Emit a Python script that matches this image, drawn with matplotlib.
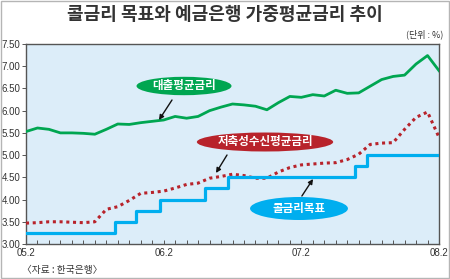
import matplotlib
matplotlib.use("Agg")
import matplotlib.pyplot as plt
from matplotlib.patches import Ellipse, Rectangle

plt.rcParams['font.family'] = ['Noto Sans CJK KR', 'DejaVu Sans']

# months since 2005.02 (0 = 05.2 ... 36 = 08.2)
months = list(range(37))
loan_rate = [5.53, 5.61, 5.58, 5.50, 5.50, 5.49, 5.47, 5.58, 5.70, 5.69, 5.73, 5.76,
             5.79, 5.87, 5.83, 5.87, 6.00, 6.08, 6.15, 6.13, 6.10, 6.02, 6.18, 6.32,
             6.30, 6.36, 6.33, 6.46, 6.39, 6.40, 6.55, 6.70, 6.77, 6.80, 7.05, 7.24, 6.90]
deposit_rate = [3.47, 3.48, 3.50, 3.50, 3.49, 3.48, 3.50, 3.78, 3.84, 3.98, 4.14, 4.16,
                4.19, 4.26, 4.34, 4.37, 4.48, 4.52, 4.57, 4.54, 4.48, 4.48, 4.62, 4.72,
                4.78, 4.80, 4.82, 4.83, 4.90, 5.02, 5.24, 5.27, 5.28, 5.58, 5.85, 5.97, 5.40]
# call rate target: change points (fractional month index) and levels
call_change = [0, 7.8, 9.6, 11.7, 15.6, 17.6, 28.7, 29.7, 36]
call_level = [3.25, 3.50, 3.75, 4.00, 4.25, 4.50, 4.75, 5.00, 5.00]

xtick_pos = [0, 12, 24, 36]
xtick_labels = ['05.2', '06.2', '07.2', '08.2']
ytick_vals = [3.0, 3.5, 4.0, 4.5, 5.0, 5.5, 6.0, 6.5, 7.0, 7.5]

title = '콜금리 목표와 예금은행 가중평균금리 추이'
label_loan = '대출평균금리'
label_dep = '저축성수신평균금리'
label_call = '콜금리목표'

GREEN = '#00a651'
RED = '#b8232b'
BLUE = '#00aeef'

fig = plt.figure(figsize=(4.5, 2.79), dpi=100)
fig.patch.set_facecolor('white')
fig.add_artist(Rectangle((0.002, 0.003), 0.995, 0.994, transform=fig.transFigure,
                         fill=False, edgecolor='#b5b5b5', linewidth=1.0))

ax = fig.add_axes([26/450, 1-244/279, 413/450, 200/279])
ax.set_facecolor('#dcedf9')

ax.plot(months, loan_rate, color=GREEN, linewidth=2.0, solid_joinstyle='round', zorder=3)
ax.plot(months, deposit_rate, color=RED, linewidth=2.2, linestyle=(0, (1.0, 1.2)), zorder=3)
ax.step(call_change, call_level, where='post', color=BLUE, linewidth=2.3, zorder=3)

ax.set_xlim(0, 36)
ax.set_ylim(3.0, 7.5)
ax.set_yticks(ytick_vals)
ax.set_yticklabels([f'{v:.2f}' for v in ytick_vals])
ax.set_xticks(xtick_pos)
ax.set_xticklabels(xtick_labels)
ax.set_xticks(months, minor=True)
ax.tick_params(axis='x', which='both', direction='in', length=3, width=0.7, color='#555555',
               labelsize=7, labelcolor='#333333', pad=3)
ax.tick_params(axis='y', direction='out', length=3, width=0.7, color='#555555',
               labelsize=7, labelcolor='#333333', pad=1)
for lab in ax.get_xticklabels() + ax.get_yticklabels():
    lab.set_family(['Liberation Sans Narrow', 'Liberation Sans', 'DejaVu Sans'])
for s in ax.spines.values():
    s.set_color('#555555')
    s.set_linewidth(1.0)

# callout ellipses
def callout(cx, cy, w, h, color, text, tail, tip):
    e = Ellipse((cx, cy), w, h, transform=ax.transAxes, facecolor=color,
                edgecolor='none', zorder=5)
    ax.add_patch(e)
    ax.text(cx, cy, text, transform=ax.transAxes, ha='center', va='center',
            color='white', fontsize=8.3, fontweight='bold', zorder=6)
    ax.annotate('', xy=tip, xytext=tail, xycoords='axes fraction',
                textcoords='axes fraction',
                arrowprops=dict(arrowstyle='-|>', color='#111111', lw=1.0,
                                mutation_scale=7, shrinkA=0, shrinkB=0), zorder=6)

callout(0.3826, 0.79, 0.23, 0.092, GREEN, label_loan, (0.3535, 0.72), (0.322, 0.62))
callout(0.5787, 0.51, 0.33, 0.095, RED, label_dep, (0.4867, 0.445), (0.46, 0.355))
callout(0.661, 0.1775, 0.237, 0.115, BLUE, label_call, (0.668, 0.24), (0.695, 0.325))

fig.text(0.5, 1-15/279, title, ha='center', va='center', fontsize=13,
         fontweight='bold', color='#333333')
fig.text(443/450, 1-34/279, '(단위 : %)', ha='right', va='center', fontsize=6.5,
         color='#333333')
fig.text(22/450, 1-270/279, '〈자료 : 한국은행〉', ha='left', va='center', fontsize=7,
         color='#333333')

fig.savefig('out.png', dpi=100)
